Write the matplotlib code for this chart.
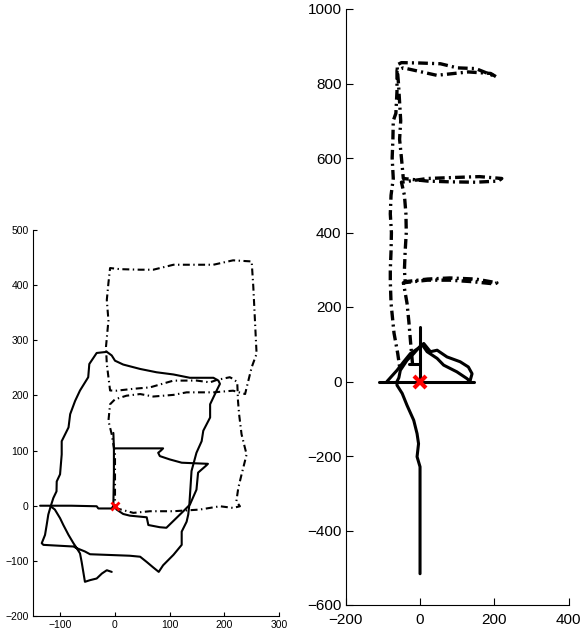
import matplotlib
matplotlib.use("Agg")
import matplotlib.pyplot as plt

plt.rcParams['font.family'] = ['Liberation Sans', 'DejaVu Sans']
plt.rcParams['lines.scale_dashes'] = False

# ---------------- Left panel data ----------------
left_hline_x = [-137, -120, -80, -33.5, -30.5, -6, -3, -2, -2, -3]
left_hline_y = [0, 0, 0, -1, -5, -5, 0, 60, 104, 132]

left_sub_x = [-2, 4, 40, 88, 84, 79, 82, 100, 122, 145, 170, 167, 152, 149, 137, 125, 94, 82, 61, 58, 27, 15, 3, 0]
left_sub_y = [104, 104, 104, 104, 100, 96, 90, 84, 78, 77, 76, 73, 60, 29, 2, -10, -40, -39, -35, -21, -18, -15, -7, -2]

left_loop_x = [-6, -15, -24, -33.5, -45.7, -55, -58, -61, -64, -70, -76, -85, -94.5, -100.5, -110, -117.6,
               -122, -125, -128, -134, -131, -76, -70, -55, -45.7, 27, 46, 58, 70, 80, 88, 107, 122, 122,
               131, 134, 136, 138, 140, 149, 158.5, 161.5, 174, 174, 186, 192, 189, 180, 137, 107, 76, 46,
               15, 0, -6, -15, -33.5, -47, -49, -64, -73, -82, -85, -97.5, -97.5, -100.5, -106.6, -107,
               -112.8, -117.6]
left_loop_y = [-120, -117, -123, -132, -135, -138, -120, -102, -86.5, -77, -68, -53, -35, -22.6, -7, -1,
               -16, -35, -53, -68, -71, -74, -77, -83, -88, -90.7, -92.5, -102, -112, -120, -108, -89, -71, -47,
               -29, -16, 2, 32, 63, 96, 117, 136, 160, 184, 209, 221, 227, 232, 232, 238, 242, 248,
               256, 263, 272.5, 279, 277, 257, 233, 209, 190, 166, 142, 117, 93, 57, 44, 26,
               14, -1]

left_dd_x = [0, 33.5, 64, 107, 155, 192, 216, 228.5, 222, 225.5, 231.5, 237.7, 240.7, 231.5, 227, 225, 223.6,
             216, 210, 186, 173.7, 149, 106.6, 64, 33.5, 3, -9, -15, -16.5, -12, -15, -12, -9, 9, 46, 70,
             107, 143, 180, 216, 250, 253, 256, 259, 250, 241, 238, 216, 180, 131, 107, 70, 46, 21, 0,
             -9, -12, -6, 0, 0]
left_dd_y = [-4, -13, -10, -10, -7, -1, -4, -1, 8, 32, 56.6, 81, 93, 129.5, 166, 190, 224,
             230, 233, 228, 223.7, 227, 226.8, 214.6, 212, 208.6, 209, 257, 288, 336, 373, 404, 431, 429, 428, 428,
             437, 437, 437, 445, 443, 397, 336, 275.5, 251, 215, 202.5, 208.6, 205.6, 205.6, 201, 198, 202.5, 199.5, 193,
             184, 154, 129.5, 93, 2]

# ---------------- Right panel data ----------------
right_h_x = [-111, 144]
right_h_y = [0, 0]
right_v_x = [0, 0]
right_v_y = [0, 147]
right_outer_x = [-89, -62, -44, -26, 1, 10, 28, 46, 72.5, 108, 130, 140, 135, 130]
right_outer_y = [0, 30, 53, 75, 93, 102, 80, 84, 66, 53, 39, 21, 3, 0]
right_inner_x = [0, 0, -8, -4, -8, -17, -35, -48, -62, -62, -57, -53, -35, -17, 5, 19, 46, 63.5, 99, 126, 135]
right_inner_y = [-516, -229, -202, -167, -140, -104, -64, -32, -10, 0, 10, 30, 57, 75, 100, 80, 62, 44, 26, 8, 0]
right_short_x = [-30, 0]
right_short_y = [48, 48]

right_e_x = [-20, -25, -30, -35, -42, -45, 20, 80, 140, 200, 207, 150, 80, 20, -40, -42, -40, -37, -38, -42,
             -50, 20, 100, 160, 220, 210, 150, 80, 20, -45, -50, -55, -52, -55, -58, -62, -50, 0, 55, 100,
             150, 205, 190, 130, 45, 0, -45, -62, -62, -65, -72, -73, -75, -72, -78, -80, -77, -78, -80,
             -80, -78, -70, -60, -55]
right_e_y = [45, 100, 160, 210, 250, 265, 272, 272, 268, 262, 265, 275, 278, 275, 268, 300, 350, 400, 450, 500,
             535, 545, 548, 550, 545, 538, 535, 536, 538, 545, 600, 650, 700, 750, 800, 850, 856, 855, 853, 842,
             840, 818, 827, 831, 822, 832, 842, 835, 780, 720, 700, 650, 600, 545, 500, 450, 400, 350, 300,
             270, 210, 130, 75, 40]

left_xticks = [-100, 0, 100, 200, 300]
left_yticks = [-200, -100, 0, 100, 200, 300, 400, 500]
right_xticks = [-200, 0, 200, 400]
right_yticks = [-600, -400, -200, 0, 200, 400, 600, 800, 1000]

fig = plt.figure(figsize=(5.84, 6.35), dpi=100)

# Left axes
ax1 = fig.add_axes([33/584, 19/635, 246/584, 386/635])
k = dict(color='black', lw=1.5, solid_joinstyle='round', solid_capstyle='round')
ax1.plot(left_hline_x, left_hline_y, **k)
ax1.plot(left_sub_x, left_sub_y, **k)
ax1.plot(left_loop_x, left_loop_y, **k)
ax1.plot(left_dd_x, left_dd_y, color='black', lw=1.5, linestyle=(0, (5, 2.5, 1, 2.5)))
ax1.plot([0], [0], 'x', color='red', ms=6, mew=2)
ax1.set_xlim(-150, 300)
ax1.set_ylim(-200, 500)
ax1.set_xticks(left_xticks)
ax1.set_yticks(left_yticks)
ax1.tick_params(direction='in', length=3, labelsize=7.5, width=0.8, pad=3)

# Right axes
ax2 = fig.add_axes([345.7/584, 30/635, 223/584, 596/635])
k2 = dict(color='black', lw=2.2, solid_joinstyle='round', solid_capstyle='round')
ax2.plot(right_e_x, right_e_y, color='black', lw=2.4, linestyle=(0, (7, 3, 1.5, 3)))
ax2.plot(right_h_x, right_h_y, **k2)
ax2.plot(right_v_x, right_v_y, **k2)
ax2.plot(right_outer_x, right_outer_y, **k2)
ax2.plot(right_inner_x, right_inner_y, **k2)
ax2.plot(right_short_x, right_short_y, **k2)
ax2.plot([0], [0], 'x', color='red', ms=9, mew=3)
ax2.set_xlim(-200, 400)
ax2.set_ylim(-600, 1000)
ax2.set_xticks(right_xticks)
ax2.set_yticks(right_yticks)
ax2.tick_params(direction='in', length=5, labelsize=11, width=0.8, pad=3)
ax2.tick_params(axis='x', pad=6)

for ax in (ax1, ax2):
    ax.spines['top'].set_visible(False)
    ax.spines['right'].set_visible(False)
    for s in ('left', 'bottom'):
        ax.spines[s].set_linewidth(0.8)
    ax.patch.set_alpha(0)

fig.savefig('out.png', dpi=100)
